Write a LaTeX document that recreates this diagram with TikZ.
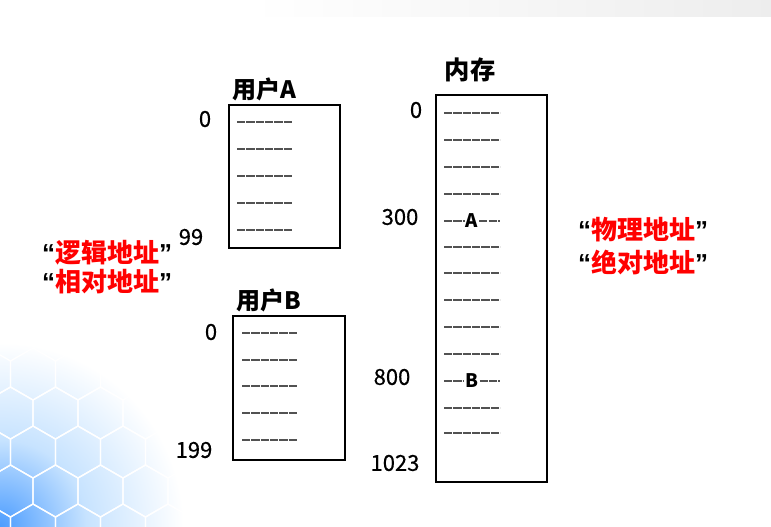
\documentclass[tikz,border=0pt]{standalone}
\usepackage{fontspec}
\setmainfont{Noto Sans CJK SC}
\newfontfamily\quotefont{Liberation Sans}
\newfontfamily\numfont[FakeBold=0.5]{Noto Sans CJK SC}
\usetikzlibrary{positioning}
\colorlet{hexdeep}{blue!55!cyan!70}
\colorlet{hexpale}{blue!50!cyan!22!white}
\pgfdeclareradialshading{cornerfade}{\pgfpoint{0bp}{0bp}}{%
   color(0bp)=(hexdeep); color(8bp)=(hexpale); color(17bp)=(white); color(50bp)=(white)}
\tikzset{%
   membox/.style={draw=black, line width=1.5pt, anchor=north west, inner sep=0pt},
   boxtitle/.style={font=\fontsize{18}{20}\selectfont\bfseries, inner sep=0pt},
   addr/.style={font=\fontsize{16.5}{18}\selectfont\numfont, inner sep=0pt},
   rowline/.style={draw=black!68, line width=1.2pt, dash pattern=on 6.2pt off 0.8pt},
   cell/.style={font=\fontsize{14}{16}\selectfont\bfseries, inner sep=0.6pt},
   note/.style={font=\fontsize{19.5}{22}\selectfont\bfseries, inner sep=0pt},
}
\newcommand{\quoted}[1]{{\quotefont\bfseries “}{\color{red}#1}{\quotefont\bfseries ”}}

\begin{document}
\begin{tikzpicture}[x=0.75pt, y=-0.75pt]
   \useasboundingbox (0,0) rectangle (771,526);
   % slide background
   \shade[left color=white, right color=black!7] (250,0) rectangle (771,16);
   \begin{scope}
      \clip (0,300) rectangle (260,526);
      \shade[shading=cornerfade] (0,526) circle (270);
      \foreach \r in {0,...,4}{
         \foreach \c in {0,...,4}{
            \pgfmathsetmacro\cx{\c*45+mod(\r,2)*22.5-12}
            \pgfmathsetmacro\cy{530-\r*39}
            \draw[white, line width=1pt] (\cx,\cy) +(30:26) -- +(90:26) -- +(150:26)
               -- +(210:26) -- +(270:26) -- +(330:26) -- cycle;
         }
      }
   \end{scope}

   % user A
   \node[membox, minimum width=83.25pt, minimum height=107.25pt] (userA) at (228,104) {};
   \node[boxtitle] (tA) at (264,89) {用户A};
   \foreach \y in {122,149,176,203,230}
      \draw[rowline] (237,\y) -- ++(55,0);
   \node[addr] (a0) at (205,119) {0};
   \node[addr] (a99) at (191,237) {99};

   % user B
   \node[membox, minimum width=84pt, minimum height=108pt] (userB) at (232,315) {};
   \node[boxtitle] (tB) at (269,300) {用户B};
   \foreach \y in {333,360,386,413,440}
      \draw[rowline] (242,\y) -- ++(55,0);
   \node[addr] (b0) at (211,332) {0};
   \node[addr] (b199) at (194,450) {199};

   % memory
   \node[membox, minimum width=83.25pt, minimum height=290.25pt] (mem) at (435,94) {};
   \node[boxtitle, font=\fontsize{19}{21}\selectfont\bfseries] (tM) at (470,70) {内存};
   \foreach \y in {113,140,167,194,247,273,300,327,354,408,433}
      \draw[rowline] (444,\y) -- ++(56,0);
   \node[cell] (mA) at (472,221) {A};
   \node[cell] (mB) at (472,381) {B};
   \coordinate (aL) at (444,221);
   \coordinate (aR) at (500,221);
   \coordinate (bL) at (444,381);
   \coordinate (bR) at (500,381);
   \draw[rowline] (aL) -- (mA.west);
   \draw[rowline] (mA.east) -- (aR);
   \draw[rowline] (bL) -- (mB.west);
   \draw[rowline] (mB.east) -- (bR);
   \node[addr] (m0) at (416,110) {0};
   \node[addr] (m300) at (400,217) {300};
   \node[addr] (m800) at (392,377) {800};
   \node[addr] (m1023) at (395,463) {1023};

   % notes
   \node[note] (logic) at (107,253) {\quoted{逻辑地址}};
   \node[note] (rel) at (107,282) {\quoted{相对地址}};
   \node[note] (phys) at (643,230) {\quoted{物理地址}};
   \node[note] (abs) at (643,262) {\quoted{绝对地址}};
\end{tikzpicture}
\end{document}
